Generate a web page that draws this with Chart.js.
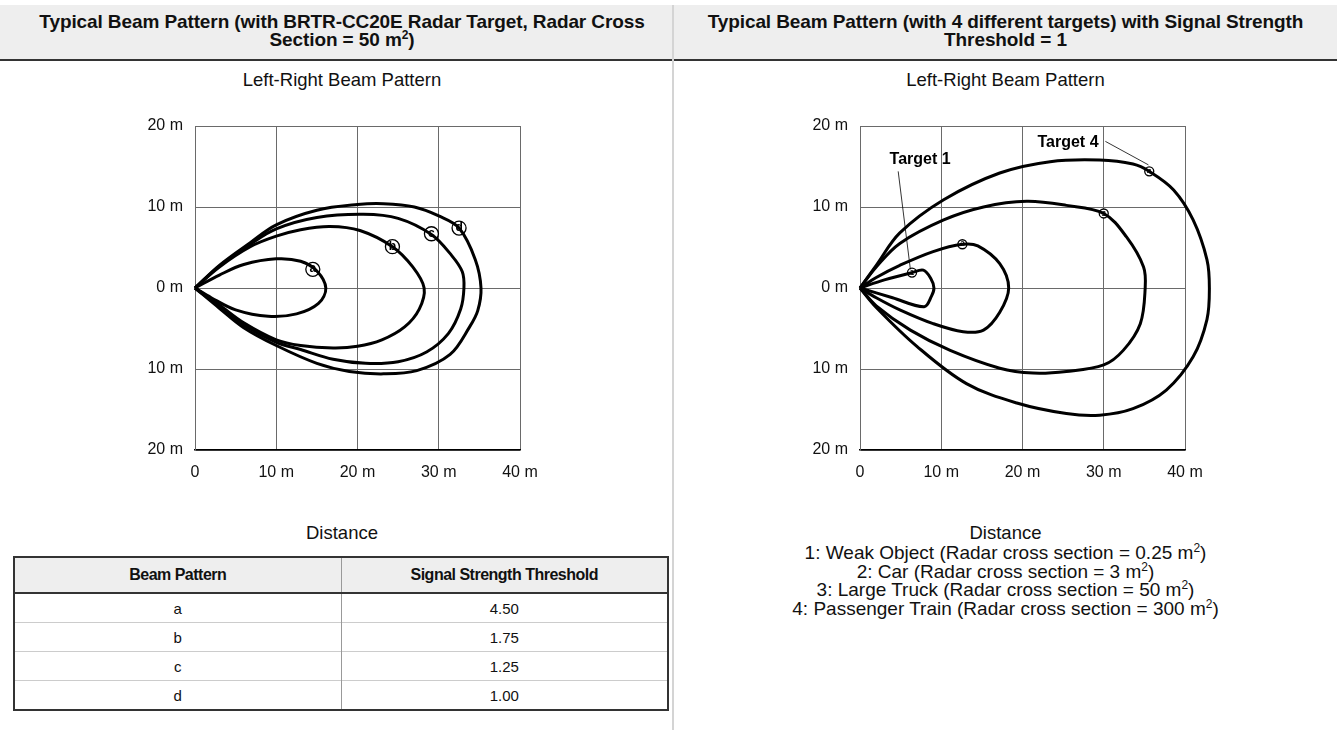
<!DOCTYPE html>
<html>
<head>
<meta charset="utf-8">
<script src="https://cdn.jsdelivr.net/npm/chart.js@4.4.0/dist/chart.umd.min.js"></script>
<style>
  body { margin: 0; width: 1337px; height: 730px; background: #fff; position: relative; overflow: hidden;
         font-family: "Liberation Sans", Arial, Helvetica, sans-serif; color: #111; }
  .hdr { position: absolute; top: 5px; height: 56px; background: #eeeeee; border-bottom: 2px solid #333;
         font-weight: bold; font-size: 19px; line-height: 17.5px; text-align: center; letter-spacing: -0.1px;
         box-sizing: border-box; padding-top: 8px; }
  .divider { position: absolute; left: 672px; top: 5px; width: 2px; height: 725px; background: #d4d4d4; }
  .sub { position: absolute; font-size: 18.5px; line-height: 20px; text-align: center; }
  canvas { position: absolute; }
  table { position: absolute; left: 13px; top: 556px; width: 656px; border-collapse: collapse;
          border: 2px solid #333; font-size: 15px; }
  th { background: #eeeeee; font-weight: bold; height: 34px; letter-spacing: -0.5px; font-size: 16px;
       border-bottom: 2px solid #333; padding: 0; }
  td { height: 28px; text-align: center; border-top: 1px solid #ccc; padding: 0; }
  th + th, td + td { border-left: 1px solid #999; }
  .legend { position: absolute; left: 674px; width: 663px; top: 544px; text-align: center;
            font-size: 19px; line-height: 18.5px; }
  sup { font-size: 12px; line-height: 0; }
</style>
</head>
<body>
<div class="hdr" style="left:0;width:672px;padding-left:12px;">Typical Beam Pattern (with BRTR-CC20E Radar Target, Radar Cross<br>Section = 50 m<sup>2</sup>)</div>
<div class="hdr" style="left:674px;width:663px;">Typical Beam Pattern (with 4 different targets) with Signal Strength<br>Threshold = 1</div>
<div class="divider"></div>

<div class="sub" style="left:12px;width:660px;top:70px;">Left-Right Beam Pattern</div>
<div class="sub" style="left:674px;width:663px;top:70px;">Left-Right Beam Pattern</div>

<canvas id="leftChart" width="440" height="390" style="left:100px;top:110px;width:440px;height:390px;"></canvas>
<canvas id="rightChart" width="470" height="390" style="left:765px;top:110px;width:470px;height:390px;"></canvas>

<div class="sub" style="left:12px;width:660px;top:523px;">Distance</div>
<div class="sub" style="left:674px;width:663px;top:523px;">Distance</div>

<table>
  <tr><th style="width:50%">Beam Pattern</th><th>Signal Strength Threshold</th></tr>
  <tbody id="tbody"></tbody>
</table>

<div class="legend" id="legend"></div>

<script>
// ---- ejes y etiquetas ----
const xTickValues = [0, 10, 20, 30, 40];
const xTickLabels = ["0", "10 m", "20 m", "30 m", "40 m"];
const yTickValues = [-20, -10, 0, 10, 20];
const yTickLabels = ["20 m", "10 m", "0 m", "10 m", "20 m"];

// ---- tabla: patron vs umbral ----
const patternNames = ["a", "b", "c", "d"];
const thresholds = ["4.50", "1.75", "1.25", "1.00"];

// ---- patrones izquierdos (m) ----
const beamAX = [0, 3, 6, 10, 13, 15, 16.1, 15.2, 12.5, 9, 5, 2, 0];
const beamAY = [0, 1.6, 2.9, 3.6, 3.3, 2.1, 0, -1.9, -3.2, -3.5, -2.7, -1.2, 0];
const beamBX = [0, 3, 6.8, 10, 13, 16.6, 20.3, 24.3, 26.8, 28.2, 27.6, 25.8, 23, 20, 17, 13, 10, 6, 3, 0];
const beamBY = [0, 2.6, 5.1, 6.4, 7.2, 7.6, 7.1, 5.1, 2.6, 0, -2.6, -4.8, -6.4, -7.2, -7.4, -7.1, -6.4, -4.3, -2.1, 0];
const beamCX = [0, 3, 6.8, 10, 15, 20.7, 25, 29.1, 31.6, 32.9, 33.1, 32.7, 31.2, 28.5, 25, 21, 17, 13, 10, 6, 3, 0];
const beamCY = [0, 2.7, 5.4, 7.3, 8.7, 9.1, 8.6, 6.6, 4.0, 2.0, 0, -2.6, -5.6, -7.9, -9.1, -9.3, -8.8, -7.6, -6.7, -4.6, -2.3, 0];
const beamDX = [0, 3, 6.8, 10, 15, 20, 23.2, 27, 30, 32.5, 34.5, 35.2, 34.8, 33.8, 31.4, 27.3, 23.2, 19, 15, 10, 6, 3, 0];
const beamDY = [0, 2.8, 5.6, 7.8, 9.6, 10.3, 10.4, 10.0, 8.9, 7.4, 3.5, 0, -2.8, -4.8, -8.2, -10.2, -10.6, -10.3, -9.3, -7.1, -4.9, -2.5, 0];
const leftMarkX = [14.5, 24.3, 29.1, 32.5];
const leftMarkY = [2.3, 5.1, 6.7, 7.4];

// ---- objetivos derechos (m) ----
const target1X = [0, 3, 6.4, 7.8, 8.7, 9.1, 8.8, 7.9, 4, 0];
const target1Y = [0, 1.0, 1.9, 2.2, 1.2, 0, -1.0, -2.3, -1.2, 0];
const target2X = [0, 2, 4.9, 9.0, 12.6, 14.5, 17.2, 18.3, 17.2, 15.2, 12.7, 9.0, 4.9, 2, 0];
const target2Y = [0, 1.3, 2.8, 4.5, 5.4, 5.2, 3.0, 0, -3.0, -5.2, -5.4, -4.4, -2.7, -1.2, 0];
const target3X = [0, 2.0, 4.9, 10.3, 15.2, 20.5, 25.4, 30.0, 32.8, 34.9, 35.1, 34.5, 32.4, 30.0, 25.4, 21.3, 17.2, 11.1, 6.2, 2.0, 0];
const target3Y = [0, 2.6, 5.5, 8.4, 10.0, 10.7, 10.2, 9.2, 6.3, 2.6, 0, -4.4, -7.7, -9.5, -10.3, -10.5, -9.9, -7.7, -5.2, -2.2, 0];
const target4X = [0, 2.0, 4.9, 10.3, 17.2, 23.4, 29.5, 33.6, 35.6, 38.6, 41.0, 42.7, 43.0, 42.7, 41.0, 37.7, 33.6, 29.5, 25.4, 19.3, 13.1, 7.0, 2.0, 0];
const target4Y = [0, 2.8, 6.8, 10.9, 14.2, 15.6, 15.8, 15.3, 14.4, 12.1, 8.4, 3.5, 0, -3.9, -8.5, -12.6, -14.9, -15.7, -15.5, -14.2, -11.8, -7.2, -2.4, 0];
const rightMarkX = [6.4, 12.6, 30.0, 35.6];
const rightMarkY = [1.9, 5.4, 9.2, 14.4];
const rightMarkText = ["1", "2", "3", "4"];

// textos "Target" y sus lineas guia
const calloutText = ["Target 1", "Target 4"];
const calloutX = [7.4, 25.6];
const calloutY = [15.9, 18.0];
const leader1X = [4.7, 6.2], leader1Y = [14.4, 2.3];
const leader4X = [30.2, 35.5], leader4Y = [18.1, 15.2];

const legendLines = [
    "1: Weak Object (Radar cross section = 0.25 m<sup>2</sup>)",
    "2: Car (Radar cross section = 3 m<sup>2</sup>)",
    "3: Large Truck (Radar cross section = 50 m<sup>2</sup>)",
    "4: Passenger Train (Radar cross section = 300 m<sup>2</sup>)",
];

// tabla y leyenda en HTML
document.getElementById("tbody").innerHTML = patternNames
    .map((n, i) => `<tr><td>${n}</td><td>${thresholds[i]}</td></tr>`).join("");
document.getElementById("legend").innerHTML = legendLines.join("<br>");

const zip = (xs, ys) => xs.map((x, i) => ({ x, y: ys[i] }));

function curve(xs, ys) {
    return {
        data: zip(xs, ys), showLine: true, borderColor: "#000", borderWidth: 3,
        tension: 0.35, pointRadius: 0, clip: false, fill: false,
    };
}
function leader(xs, ys) {
    return {
        data: zip(xs, ys), showLine: true, borderColor: "#000", borderWidth: 0.8,
        tension: 0, pointRadius: 0, clip: false,
    };
}
function markers(xs, ys, r) {
    return {
        data: zip(xs, ys), showLine: false, pointRadius: r, pointHoverRadius: r,
        pointBackgroundColor: "#fff", pointBorderColor: "#000", pointBorderWidth: 1.3, clip: false,
    };
}

// dibuja letras dentro de los circulos y las etiquetas "Target"
const textPlugin = {
    id: "marks",
    afterDatasetsDraw(chart, args, opts) {
        const { ctx, scales } = chart;
        ctx.save();
        ctx.textAlign = "center";
        ctx.textBaseline = "middle";
        ctx.fillStyle = "#000";
        for (const t of opts.items || []) {
            ctx.font = t.font;
            ctx.fillText(t.text, scales.x.getPixelForValue(t.x), scales.y.getPixelForValue(t.y) + (t.dy || 0));
        }
        ctx.restore();
    }
};

function makeOptions(items, padRight) {
    const tickFont = { family: "Liberation Sans, Arial, sans-serif", size: 16 };
    return {
        animation: false,
        responsive: false,
        events: [],
        layout: { padding: { top: 16, right: padRight, left: 0, bottom: 0 } },
        plugins: { legend: { display: false }, tooltip: { enabled: false }, marks: { items } },
        scales: {
            x: {
                type: "linear", min: 0, max: 40,
                afterBuildTicks: s => { s.ticks = xTickValues.map(v => ({ value: v })); },
                // altura fija y sin margen extra por las etiquetas
                afterFit: s => { s.height = 50; s.paddingLeft = 0; s.paddingRight = 0; },
                ticks: { callback: (v) => xTickLabels[xTickValues.indexOf(v)], color: "#111", font: tickFont, padding: 13, maxRotation: 0 },
                grid: { color: "#6a6a6a", lineWidth: 1, drawTicks: false },
                border: { color: "#000", width: 1.5 },
            },
            y: {
                type: "linear", min: -20, max: 20,
                afterBuildTicks: s => { s.ticks = yTickValues.map(v => ({ value: v })); },
                afterFit: s => { s.width = 95; s.paddingTop = 0; s.paddingBottom = 0; },
                ticks: { callback: (v) => yTickLabels[yTickValues.indexOf(v)], color: "#111", font: tickFont, padding: 12 },
                grid: { color: "#6a6a6a", lineWidth: 1, drawTicks: false },
                border: { color: "#6a6a6a", width: 1 },
            }
        }
    };
}

const leftItems = patternNames.map((n, i) => ({
    text: n, x: leftMarkX[i], y: leftMarkY[i], dy: -0.5, font: "bold 12px Liberation Sans, Arial, sans-serif"
}));
new Chart(document.getElementById("leftChart"), {
    type: "scatter",
    data: {
        datasets: [
            curve(beamAX, beamAY), curve(beamBX, beamBY), curve(beamCX, beamCY), curve(beamDX, beamDY),
            markers(leftMarkX, leftMarkY, 7),
        ]
    },
    options: makeOptions(leftItems, 20),
    plugins: [textPlugin],
});

const rightItems = rightMarkText.map((n, i) => ({
    text: n, x: rightMarkX[i], y: rightMarkY[i], font: "bold 8px Liberation Sans, Arial, sans-serif"
})).concat(calloutText.map((t, i) => ({
    text: t, x: calloutX[i], y: calloutY[i], font: "bold 16px Liberation Sans, Arial, sans-serif"
})));
new Chart(document.getElementById("rightChart"), {
    type: "scatter",
    data: {
        datasets: [
            curve(target1X, target1Y), curve(target2X, target2Y), curve(target3X, target3Y), curve(target4X, target4Y),
            leader(leader1X, leader1Y), leader(leader4X, leader4Y),
            markers(rightMarkX, rightMarkY, 4.5),
        ]
    },
    options: makeOptions(rightItems, 50),
    plugins: [textPlugin],
});
</script>
</body>
</html>
